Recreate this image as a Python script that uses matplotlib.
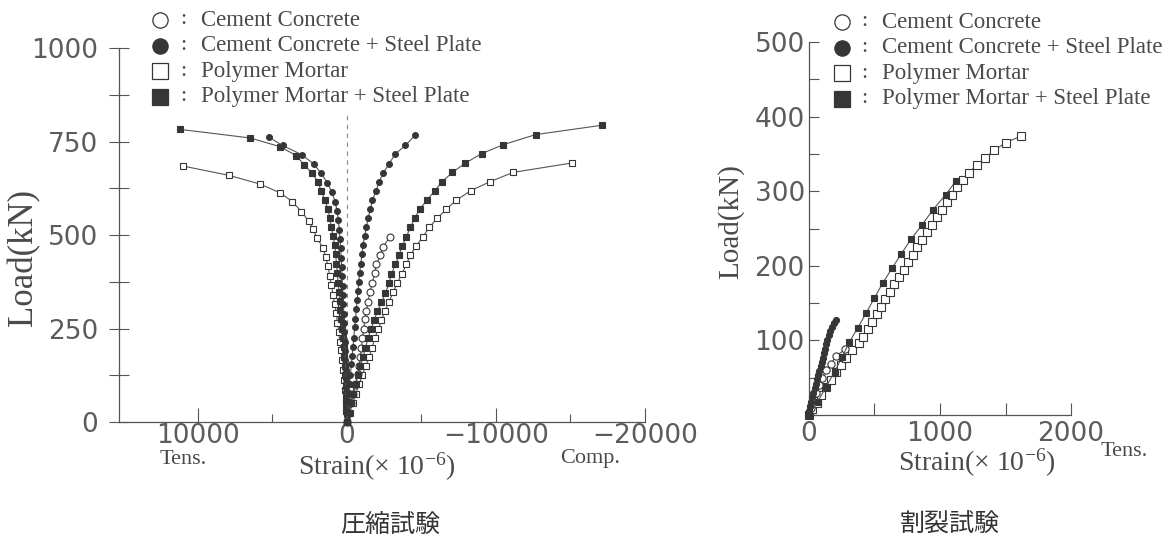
import matplotlib
matplotlib.use("Agg")
import matplotlib.pyplot as plt
from matplotlib.ticker import FixedLocator, FixedFormatter

plt.rcParams['font.family'] = ['DejaVu Sans']
plt.rcParams['mathtext.fontset'] = 'custom'
plt.rcParams['mathtext.rm'] = 'Liberation Serif'
plt.rcParams['mathtext.it'] = 'Liberation Serif:italic'

# ---------------- Compression test (left) ----------------
# Cement Concrete (open circle), compression side
cc_load = [0, 25, 50, 75, 100, 128, 150, 174, 199, 224, 248, 275, 297, 322, 347, 373, 398, 422, 447, 469, 494]
cc_strain = [0, -130, -260, -400, -540, -761, -828, -917, -984, -1051, -1141, -1208, -1320, -1432, -1544, -1723, -1879, -1990, -2259, -2438, -2886]

# Cement Concrete + Steel Plate (filled circle)
ccs_load_c = [0, 28, 56, 78, 102, 127, 154, 176, 201, 226, 253, 275, 302, 326, 351, 375, 400, 424, 449, 474,
              498, 522, 546, 570, 593, 617, 642, 666, 691, 718, 740, 767]
ccs_strain_c = [0, -45, -89, -157, -201, -246, -313, -358, -425, -470, -537, -582, -649, -694, -761, -805, -872,
                -940, -1029, -1096, -1208, -1320, -1432, -1589, -1723, -1946, -2170, -2438, -2841, -3266, -3937, -4564]
ccs_load_t = [0, 15, 40, 65, 90, 115, 140, 165, 190, 215, 240, 265, 290, 315, 340, 365, 390, 415, 440, 465,
              490, 515, 540, 565, 590, 615, 640, 665, 690, 715, 740, 762]
ccs_strain_t = [0, 8, 20, 30, 45, 60, 75, 90, 110, 130, 150, 175, 200, 225, 250, 280, 310, 340, 370, 410,
                450, 500, 560, 650, 780, 1000, 1300, 1700, 2200, 3000, 4300, 5210]

# Polymer Mortar (open square)
pm_load_c = [0, 25, 50, 76, 101, 126, 150, 174, 199, 224, 248, 272, 297, 322, 347, 371, 397, 422, 447, 472,
             496, 521, 546, 570, 594, 619, 643, 668, 693]
pm_strain_c = [0, -200, -400, -604, -828, -1051, -1275, -1499, -1700, -1879, -2103, -2327, -2550, -2841, -3110,
               -3378, -3714, -4004, -4273, -4676, -5123, -5526, -6085, -6689, -7360, -8322, -9597, -11163, -15078]
pm_load_t = [0, 30, 58, 86, 113, 139, 166, 193, 215, 242, 266, 291, 316, 340, 367, 392, 417, 442, 466, 492,
             516, 538, 563, 590, 613, 637, 660, 685]
pm_strain_t = [0, 30, 60, 89, 179, 246, 313, 403, 470, 537, 626, 693, 805, 917, 1029, 1141, 1253, 1410, 1589,
               1990, 2259, 2550, 3042, 3646, 4452, 5839, 7897, 10984]

# Polymer Mortar + Steel Plate (filled square)
pms_load_c = [0, 25, 50, 75, 101, 126, 150, 174, 199, 224, 248, 272, 296, 320, 345, 371, 396, 422, 447, 472,
              496, 521, 546, 570, 594, 619, 643, 668, 692, 718, 742, 769, 794]
pms_strain_c = [0, -150, -300, -450, -604, -761, -917, -1096, -1253, -1432, -1611, -1834, -2058, -2327, -2595,
                -2841, -2998, -3266, -3512, -3736, -4004, -4273, -4564, -4899, -5391, -5906, -6398, -7092, -7919,
                -9038, -10492, -12662, -17092]
pms_load_t = [0, 25, 50, 75, 100, 125, 150, 175, 200, 224, 248, 275, 299, 324, 349, 373, 400, 424, 449, 474,
              498, 521, 546, 570, 594, 617, 642, 666, 689, 713, 737, 760, 783]
pms_strain_t = [0, 15, 30, 50, 70, 90, 120, 160, 200, 246, 313, 358, 425, 470, 514, 582, 626, 693, 738, 805,
                917, 1029, 1141, 1253, 1476, 1700, 1924, 2326, 2886, 3378, 4497, 6465, 11163]

# ---------------- Splitting test (right) ----------------
cc_split_load = [0, 10, 20, 30, 40, 50, 60, 69, 79, 88]
cc_split_strain = [0, 18, 38, 57, 78, 100, 131, 169, 207, 276]

ccs_split_load = [0, 5.7, 12, 17.8, 23.6, 29.8, 35.7, 41.4, 47.7, 53.5, 59, 65.5, 71, 77, 83, 89, 95, 101,
                  107, 112.8, 118, 123.4, 128]
ccs_split_strain = [0, 0, 9, 17, 24, 34, 42, 50, 60, 70, 80, 88, 98, 106, 113, 121, 131, 141, 151, 164, 177,
                    190, 208]

pm_split_load = [0, 8, 16, 27, 37, 47, 57, 67, 77, 87, 96, 105, 115, 125, 135, 145, 155, 165, 175, 185, 195,
                 205, 215, 225, 235, 245, 255, 265, 275, 285, 295, 305, 315, 325, 335, 345, 355, 365, 374]
pm_split_strain = [0, 25, 61, 94, 127, 170, 205, 246, 284, 330, 379, 410, 448, 481, 517, 550, 583, 619, 652,
                   685, 723, 759, 792, 826, 861, 902, 937, 978, 1014, 1055, 1090, 1131, 1174, 1220, 1281, 1347,
                   1416, 1500, 1620]

pms_split_load = [0, 18, 38, 58, 78, 98, 117, 137, 157, 177, 197, 216, 236, 255, 275, 295, 314]
pms_split_strain = [0, 67, 131, 195, 253, 309, 373, 437, 500, 563, 635, 704, 780, 864, 945, 1042, 1123]

left_xticks = [10000, 0, -10000, -20000]
left_xticklabels = ['10000', '0', '\u221210000', '\u221220000']
left_yticks = [0, 250, 500, 750, 1000]
right_xticks = [0, 1000, 2000]
right_yticks = [0, 100, 200, 300, 400, 500]
right_yticklabels = ['', '100', '200', '300', '400', '500']

legend_labels = ['Cement Concrete', 'Cement Concrete + Steel Plate', 'Polymer Mortar',
                 'Polymer Mortar + Steel Plate']

# ---------------- styles ----------------
DARK = '#363636'
LINE = '#555555'
GRAY = '#555555'
TICKLAB = '#5c5c5c'
styles = {
    'cc': dict(marker='o', mfc='white', mec=DARK),
    'ccs': dict(marker='o', mfc=DARK, mec=DARK),
    'pm': dict(marker='s', mfc='white', mec=DARK),
    'pms': dict(marker='s', mfc=DARK, mec=DARK),
}

W, H = 1175, 556
fig = plt.figure(figsize=(W / 100, H / 100), dpi=100)

# left axes: x 119.3 -> 645 px, y 422 -> 48.3 px
axL = fig.add_axes([119.3 / W, 1 - 422 / H, (645 - 119.3) / W, (422 - 48.3) / H])
axR = fig.add_axes([809 / W, 1 - 415 / H, (1071 - 809) / W, (415 - 42) / H])


def series(ax, x, y, key, ms):
    st = styles[key]
    ax.plot(x, y, color=LINE, lw=0.8, marker=st['marker'], mfc=st['mfc'], mec=st['mec'],
            mew=0.8, ms=ms, clip_on=False, zorder=3)


series(axL, pm_strain_t, pm_load_t, 'pm', 5.0)
series(axL, pm_strain_c, pm_load_c, 'pm', 5.0)
series(axL, cc_strain, cc_load, 'cc', 5.0)
series(axL, pms_strain_t, pms_load_t, 'pms', 4.6)
series(axL, pms_strain_c, pms_load_c, 'pms', 4.6)
series(axL, ccs_strain_t, ccs_load_t, 'ccs', 4.2)
series(axL, ccs_strain_c, ccs_load_c, 'ccs', 4.2)
axL.axvline(0, ymin=0, ymax=0.825, color='#888888', lw=0.8, ls=(0, (4, 4)), zorder=1)

series(axR, pm_split_strain, pm_split_load, 'pm', 5.2)
series(axR, cc_split_strain, cc_split_load, 'cc', 5.2)
series(axR, pms_split_strain, pms_split_load, 'pms', 5.0)
series(axR, ccs_split_strain, ccs_split_load, 'ccs', 4.4)

for ax in (axL, axR):
    for s in ('top', 'right'):
        ax.spines[s].set_visible(False)
    for s in ('left', 'bottom'):
        ax.spines[s].set_color(GRAY)
        ax.spines[s].set_linewidth(0.9)

axL.set_xlim(15250, -20000)
axL.set_ylim(0, 1000)
axL.xaxis.set_major_locator(FixedLocator(left_xticks))
axL.xaxis.set_major_formatter(FixedFormatter(left_xticklabels))
axL.xaxis.set_minor_locator(FixedLocator([5000, -5000, -15000]))
axL.yaxis.set_major_locator(FixedLocator(left_yticks))
axL.yaxis.set_minor_locator(FixedLocator([125, 375, 625, 875]))
axL.tick_params(axis='x', which='major', direction='in', length=10, width=0.8, color=GRAY,
                labelsize=19, labelcolor=TICKLAB, pad=1)
axL.tick_params(axis='x', which='minor', direction='in', length=6, width=0.8, color=GRAY)
axL.tick_params(axis='y', which='both', direction='inout', length=14, width=0.8, color=GRAY,
                labelsize=19, labelcolor=TICKLAB, pad=8)

axR.set_xlim(0, 2000)
axR.set_ylim(0, 500)
axR.xaxis.set_major_locator(FixedLocator(right_xticks))
axR.xaxis.set_minor_locator(FixedLocator([500, 1500]))
axR.yaxis.set_major_locator(FixedLocator(right_yticks))
axR.yaxis.set_major_formatter(FixedFormatter(right_yticklabels))
axR.yaxis.set_minor_locator(FixedLocator([50, 150, 250, 350, 450]))
axR.tick_params(axis='x', which='both', direction='in', length=9, width=0.8, color=GRAY,
                labelsize=19, labelcolor=TICKLAB, pad=4)
axR.tick_params(axis='y', which='both', direction='in', length=7, width=0.8, color=GRAY,
                labelsize=19, labelcolor=TICKLAB, pad=3)

# overlay in pixel coordinates for labels and legends
ov = fig.add_axes([0, 0, 1, 1])
ov.set_xlim(0, W)
ov.set_ylim(H, 0)
ov.axis('off')

serif = ['Liberation Serif', 'DejaVu Serif']
tc = '#4a4a4a'
ov.text(24, 258, 'Load(kN)', rotation=90, ha='center', va='center', fontsize=25, family=serif, color=tc)
ov.text(731, 222, 'Load(kN)', rotation=90, ha='center', va='center', fontsize=21, family=serif, color=tc)
ov.text(377, 467, 'Strain(\u00d7 10$^{-6}$)', ha='center', va='center', fontsize=20, family=serif, color=tc)
ov.text(977, 463, 'Strain(\u00d7 10$^{-6}$)', ha='center', va='center', fontsize=20, family=serif, color=tc)
ov.text(183, 459, 'Tens.', ha='center', va='center', fontsize=16, family=serif, color=tc)
ov.text(590, 459, 'Comp.', ha='center', va='center', fontsize=16, family=serif, color=tc)
ov.text(1124, 452, 'Tens.', ha='center', va='center', fontsize=16, family=serif, color=tc)

cjk = ['Noto Sans CJK JP', 'DejaVu Sans']
ov.text(390, 525, '圧縮試験', ha='center', va='center', fontsize=18, family=cjk, color='#333333')
ov.text(950, 525, '割裂試験', ha='center', va='center', fontsize=18, family=cjk, color='#333333')

keys = ['cc', 'ccs', 'pm', 'pms']
for (mx, cx, tx, y0) in ((160, 183, 201, 20), (842, 864, 882, 22)):
    for i, (k, lab) in enumerate(zip(keys, legend_labels)):
        y = y0 + i * 25.5
        st = styles[k]
        ov.plot([mx], [y], marker=st['marker'], mfc=st['mfc'], mec=st['mec'], mew=0.9, ms=11,
                linestyle='none')
        ov.text(cx, y, ':', ha='center', va='center', fontsize=16, family=serif, color=tc)
        ov.text(tx, y, lab, ha='left', va='center', fontsize=16.5, family=serif, color=tc)

fig.savefig('out.png', dpi=100)
